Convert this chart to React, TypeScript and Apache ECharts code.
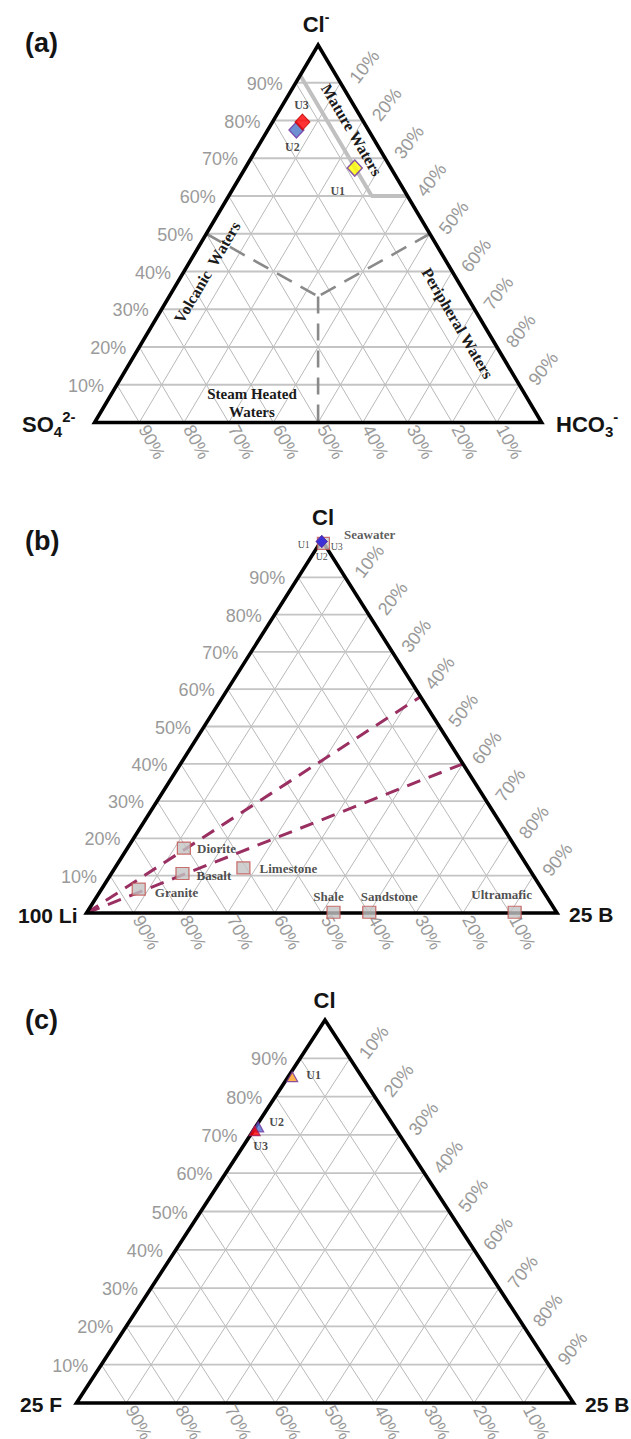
import React, { useEffect, useRef } from "react";
import * as echarts from "echarts";

// ---------- shared axis ticks ----------
const TICK_VALUES = [10, 20, 30, 40, 50, 60, 70, 80, 90];
const TICK_LABELS = ["10%", "20%", "30%", "40%", "50%", "60%", "70%", "80%", "90%"];

// ---------- (a) Cl – SO4 – HCO3 (values in %) ----------
const A_SAMPLES = ["U1", "U2", "U3"];
const A_CL = [67.4, 77.5, 79.6];
const A_HCO3 = [24.5, 6.4, 6.7];
const A_SO4 = [8.1, 16.1, 13.7];
const A_MATURE_CL = [92, 60, 60];
const A_MATURE_HCO3 = [0, 32, 40];
const A_DIV_LEFT_CL = [50, 33.4];
const A_DIV_LEFT_HCO3 = [0, 33.3];
const A_DIV_RIGHT_CL = [50, 33.4];
const A_DIV_RIGHT_HCO3 = [50, 33.3];
const A_DIV_DOWN_CL = [33.4, 0];
const A_DIV_DOWN_HCO3 = [33.3, 50];

// ---------- (b) Cl – Li – B ----------
const B_ROCKS = ["Granite", "Basalt", "Diorite", "Limestone", "Shale", "Sandstone", "Ultramafic"];
const B_ROCK_CL = [6.4, 10.6, 17.4, 12.1, 0.2, 0.2, 0.2];
const B_ROCK_B = [7.9, 15.1, 12.0, 27.3, 52.4, 60.0, 90.9];
const B_SEAWATER_CL = [99.1];
const B_SEAWATER_B = [0.8];
const B_SAMPLES = ["U1", "U2", "U3"];
const B_SAMPLE_CL = [99.6, 99.6, 99.6];
const B_SAMPLE_B = [0.2, 0.2, 0.2];
const B_MIX_START_CL = [0, 0];
const B_MIX_START_B = [0, 0];
const B_MIX_END_CL = [58, 40];
const B_MIX_END_B = [42, 60];

// ---------- (c) Cl – F – B ----------
const C_SAMPLES = ["U1", "U2", "U3"];
const C_CL = [85.2, 72.1, 71.1];
const C_B = [0.8, 0.5, 0.3];

// ternary (right component, top component) in % -> cartesian fractions
const tern = (right: number, top: number) => [(right + top / 2) / 100, top / 100];

const SANS = '"Liberation Sans", Arial, Helvetica, sans-serif';
const SERIF = '"Liberation Serif", "Times New Roman", Times, serif';
const TICK_COLOR = "#9a9a9a";

const GRIDS = [
  { left: 94.6, top: 45, width: 447, height: 377.5 },
  { left: 86.5, top: 540, width: 470.5, height: 373 },
  { left: 76.5, top: 1020, width: 497, height: 383 },
];

function txt(text: string, x: number, y: number, font: string, fill: string, align: string, vAlign: string, rotation = 0, extra: any = {}) {
  return {
    type: "text",
    x,
    y,
    rotation,
    style: {
      text,
      font,
      fill,
      align,
      verticalAlign: vAlign,
      textAlign: align,
      textVerticalAlign: vAlign,
      ...extra,
    },
  };
}

function gridSeries(p: number) {
  return {
    type: "custom",
    xAxisIndex: p,
    yAxisIndex: p,
    silent: true,
    z: 1,
    data: TICK_VALUES.map((v) => [v / 100, v / 100]),
    renderItem: (params: any, api: any) => {
      const t = api.value(0);
      const seg = (a: number[], b: number[], stroke: string, lw: number) => {
        const p1 = api.coord(a);
        const p2 = api.coord(b);
        return {
          type: "line",
          shape: { x1: p1[0], y1: p1[1], x2: p2[0], y2: p2[1] },
          style: { stroke, lineWidth: lw },
        };
      };
      return {
        type: "group",
        children: [
          seg([t + (1 - t) / 2, 1 - t], [t, 0], "#b9b9b9", 1),
          seg([(1 - t) / 2, 1 - t], [1 - t, 0], "#b9b9b9", 1),
          seg([t / 2, t], [1 - t / 2, t], "#c4c4c4", 1.8),
        ],
      };
    },
  };
}

function outlineSeries(p: number) {
  return {
    type: "custom",
    xAxisIndex: p,
    yAxisIndex: p,
    silent: true,
    z: 3,
    data: [[0.5, 0.5]],
    renderItem: (params: any, api: any) => {
      const a = api.coord([0, 0]);
      const b = api.coord([1, 0]);
      const c = api.coord([0.5, 1]);
      return {
        type: "polygon",
        shape: { points: [a, b, c] },
        style: { fill: "none", stroke: "#000", lineWidth: 3.6, lineJoin: "miter" },
      };
    },
  };
}

function tickLabelSeries(p: number) {
  return {
    type: "custom",
    xAxisIndex: p,
    yAxisIndex: p,
    silent: true,
    z: 4,
    data: TICK_VALUES.map((v) => [v / 100, v / 100]),
    renderItem: (params: any, api: any) => {
      const t = api.value(0);
      const label = TICK_LABELS[params.dataIndex];
      const L = api.coord([t / 2, t]);
      const R = api.coord([t + (1 - t) / 2, 1 - t]);
      const B = api.coord([1 - t, 0]);
      const font = `18px ${SANS}`;
      return {
        type: "group",
        children: [
          txt(label, L[0] - 13, L[1] + 1, font, TICK_COLOR, "right", "middle"),
          txt(label, R[0] + 24, R[1] - 16, font, TICK_COLOR, "center", "middle", (52 * Math.PI) / 180),
          txt(label, B[0] + 12.5, B[1] + 19.5, font, TICK_COLOR, "center", "middle", (-62 * Math.PI) / 180),
        ],
      };
    },
  };
}

function lineSeries(p: number, cl: number[], right: number[], color: string, width: number, type: any) {
  return {
    type: "line",
    xAxisIndex: p,
    yAxisIndex: p,
    silent: true,
    z: 2,
    symbol: "none",
    animation: false,
    data: cl.map((c, i) => tern(right[i], c)),
    lineStyle: { color, width, type, cap: "butt" },
  };
}

const A_NOTES = [
  { text: "Mature Waters", x: 0.575, y: 0.775, rot: -59.4 },
  { text: "Volcanic  Waters", x: 0.252, y: 0.398, rot: 59.4 },
  { text: "Peripheral Waters", x: 0.812, y: 0.263, rot: -59.4 },
  { text: "Steam Heated\nWaters", x: 0.352, y: 0.052, rot: 0 },
];

function notesSeries() {
  return {
    type: "custom",
    xAxisIndex: 0,
    yAxisIndex: 0,
    silent: true,
    z: 5,
    data: A_NOTES.map((n) => [n.x, n.y]),
    renderItem: (params: any, api: any) => {
      const n = A_NOTES[params.dataIndex];
      const pt = api.coord([api.value(0), api.value(1)]);
      const size = n.rot === 0 ? 15 : 16;
      return txt(n.text, pt[0], pt[1], `bold ${size}px ${SERIF}`, "#1a1a1a", "center", "middle", (n.rot * Math.PI) / 180, {
        lineHeight: 18,
      });
    },
  };
}

const LABEL_BASE = {
  show: true,
  formatter: "{b}",
  fontFamily: SERIF,
  fontWeight: "bold",
  fontSize: 12,
  color: "#1a1a1a",
};

function buildOption() {
  const aStyles = [
    { color: "#ffff00", borderColor: "#7030a0", borderWidth: 1.5 },
    { color: "#4a74c8", borderColor: "#7030a0", borderWidth: 1.3 },
    { color: "#ff0000", borderColor: "#c00000", borderWidth: 1 },
  ];
  const aLabels = [
    { position: "bottom", distance: 4, offset: [-17, 4] },
    { position: "bottom", distance: 2, offset: [-4, 0] },
    { position: "top", distance: 2, offset: [-1, 0] },
  ];
  const rockLabels = [
    { position: "right", distance: 9, offset: [0, 3] },
    { position: "right", distance: 7, offset: [0, 2] },
    { position: "right", distance: 6, offset: [0, 0] },
    { position: "right", distance: 9, offset: [0, 1] },
    { position: "top", distance: 3, offset: [-5, 0] },
    { position: "top", distance: 3, offset: [20, 0] },
    { position: "top", distance: 5, offset: [-13, 0] },
  ];
  const bLabels = [
    { position: "left", distance: 6, offset: [0, 3] },
    { position: "bottom", distance: 4, offset: [0, 0] },
    { position: "right", distance: 3, offset: [0, 5] },
  ];
  const cStyles = [
    { color: "#ffa020", borderColor: "#7030a0", borderWidth: 1.2 },
    { color: "#4f6fd0", borderColor: "#7030a0", borderWidth: 1.2 },
    { color: "#ff0000", borderColor: "#a02060", borderWidth: 1.2 },
  ];
  const cLabels = [
    { position: "right", distance: 8, offset: [0, -2] },
    { position: "right", distance: 5, offset: [0, -5] },
    { position: "bottom", distance: 4, offset: [6, 0] },
  ];

  const series: any[] = [];
  for (let p = 0; p < 3; p++) series.push(gridSeries(p));

  // (a) field boundaries
  series.push(lineSeries(0, A_MATURE_CL, A_MATURE_HCO3, "#c0c0c0", 4, "solid"));
  series.push(lineSeries(0, A_DIV_LEFT_CL, A_DIV_LEFT_HCO3, "#8a8a8a", 2.6, [17, 10]));
  series.push(lineSeries(0, A_DIV_RIGHT_CL, A_DIV_RIGHT_HCO3, "#8a8a8a", 2.6, [17, 10]));
  series.push(lineSeries(0, A_DIV_DOWN_CL, A_DIV_DOWN_HCO3, "#8a8a8a", 2.6, [17, 10]));

  // (b) mixing lines
  for (let i = 0; i < B_MIX_END_CL.length; i++) {
    series.push(
      lineSeries(1, [B_MIX_START_CL[i], B_MIX_END_CL[i]], [B_MIX_START_B[i], B_MIX_END_B[i]], "#9a2f62", 3, [14, 9])
    );
  }

  for (let p = 0; p < 3; p++) {
    series.push(outlineSeries(p));
    series.push(tickLabelSeries(p));
  }
  series.push(notesSeries());

  // (a) samples
  series.push({
    type: "scatter",
    xAxisIndex: 0,
    yAxisIndex: 0,
    z: 6,
    symbol: "diamond",
    symbolSize: [15, 16],
    label: LABEL_BASE,
    data: A_SAMPLES.map((s, i) => ({
      name: s,
      value: tern(A_HCO3[i], A_CL[i]),
      so4: A_SO4[i],
      itemStyle: aStyles[i],
      label: aLabels[i],
    })),
  });

  // (b) rocks
  series.push({
    type: "scatter",
    xAxisIndex: 1,
    yAxisIndex: 1,
    z: 6,
    symbol: "rect",
    symbolSize: [13, 12],
    itemStyle: { color: "#c3c3c3", borderColor: "#c0504d", borderWidth: 1.2 },
    label: { ...LABEL_BASE, fontSize: 13, color: "#222" },
    data: B_ROCKS.map((r, i) => ({ name: r, value: tern(B_ROCK_B[i], B_ROCK_CL[i]), label: rockLabels[i] })),
  });
  // (b) seawater
  series.push({
    type: "scatter",
    xAxisIndex: 1,
    yAxisIndex: 1,
    z: 6,
    symbol: "rect",
    symbolSize: [12, 12],
    itemStyle: { color: "#c8c8c8", borderColor: "#c0504d", borderWidth: 1.2 },
    label: { ...LABEL_BASE, fontSize: 13, color: "#333", position: "right", distance: 14, offset: [0, -9] },
    data: B_SEAWATER_CL.map((c, i) => ({ name: "Seawater", value: tern(B_SEAWATER_B[i], c) })),
  });
  // (b) samples
  series.push({
    type: "scatter",
    xAxisIndex: 1,
    yAxisIndex: 1,
    z: 7,
    symbol: "diamond",
    symbolSize: [11, 12],
    itemStyle: { color: "#3b2fd6", borderColor: "#5a2fa0", borderWidth: 0.8 },
    label: { ...LABEL_BASE, fontWeight: "normal", fontSize: 10, color: "#222" },
    data: B_SAMPLES.map((s, i) => ({ name: s, value: tern(B_SAMPLE_B[i], B_SAMPLE_CL[i]), label: bLabels[i] })),
  });

  // (c) samples
  series.push({
    type: "scatter",
    xAxisIndex: 2,
    yAxisIndex: 2,
    z: 6,
    symbol: "triangle",
    symbolSize: [11, 10],
    label: LABEL_BASE,
    data: C_SAMPLES.map((s, i) => ({
      name: s,
      value: tern(C_B[i], C_CL[i]),
      itemStyle: cStyles[i],
      label: cLabels[i],
    })),
  });

  const boldSans = (size: number) => `bold ${size}px ${SANS}`;
  const dark = "#141414";
  const graphic: any[] = [
    txt("(a)", 25, 43, boldSans(27), dark, "left", "middle"),
    txt("(b)", 25, 541, boldSans(27), dark, "left", "middle"),
    txt("(c)", 25, 1020, boldSans(27), dark, "left", "middle"),
    txt("{m|Cl}{p|-}", 316, 24, boldSans(22), dark, "center", "middle", 0, {
      rich: {
        m: { font: boldSans(22), fill: dark, lineHeight: 28, verticalAlign: "middle" },
        p: { font: boldSans(14), fill: dark, lineHeight: 14, verticalAlign: "top" },
      },
    }),
    txt("{m|SO}{b|4}{p|2-}", 22, 424, boldSans(22), dark, "left", "middle", 0, {
      rich: {
        m: { font: boldSans(22), fill: dark, lineHeight: 30, verticalAlign: "middle" },
        b: { font: boldSans(15), fill: dark, lineHeight: 15, verticalAlign: "bottom" },
        p: { font: boldSans(15), fill: dark, lineHeight: 15, verticalAlign: "top" },
      },
    }),
    txt("{m|HCO}{b|3}{p|-}", 556, 424, boldSans(22), dark, "left", "middle", 0, {
      rich: {
        m: { font: boldSans(22), fill: dark, lineHeight: 30, verticalAlign: "middle" },
        b: { font: boldSans(15), fill: dark, lineHeight: 15, verticalAlign: "bottom" },
        p: { font: boldSans(15), fill: dark, lineHeight: 15, verticalAlign: "top" },
      },
    }),
    txt("Cl", 323, 517, boldSans(22), dark, "center", "middle"),
    txt("100 Li", 18, 915, boldSans(21), dark, "left", "middle"),
    txt("25 B", 569, 914, boldSans(21), dark, "left", "middle"),
    txt("Cl", 324.5, 1000, boldSans(22), dark, "center", "middle"),
    txt("25 F", 20, 1404, boldSans(21), dark, "left", "middle"),
    txt("25 B", 585, 1404, boldSans(21), dark, "left", "middle"),
  ];

  return {
    animation: false,
    backgroundColor: "#ffffff",
    grid: GRIDS.map((g) => ({ ...g, containLabel: false, show: false })),
    xAxis: GRIDS.map((g, i) => ({ gridIndex: i, type: "value", min: 0, max: 1, show: false })),
    yAxis: GRIDS.map((g, i) => ({ gridIndex: i, type: "value", min: 0, max: 1, show: false })),
    series,
    graphic,
  };
}

export default function App() {
  const ref = useRef<HTMLDivElement>(null);
  useEffect(() => {
    document.body.style.margin = "0";
    const chart = echarts.init(ref.current as HTMLDivElement, null, { renderer: "svg" });
    chart.setOption(buildOption() as any);
    return () => chart.dispose();
  }, []);
  return <div ref={ref} style={{ width: 631, height: 1439 }} />;
}
